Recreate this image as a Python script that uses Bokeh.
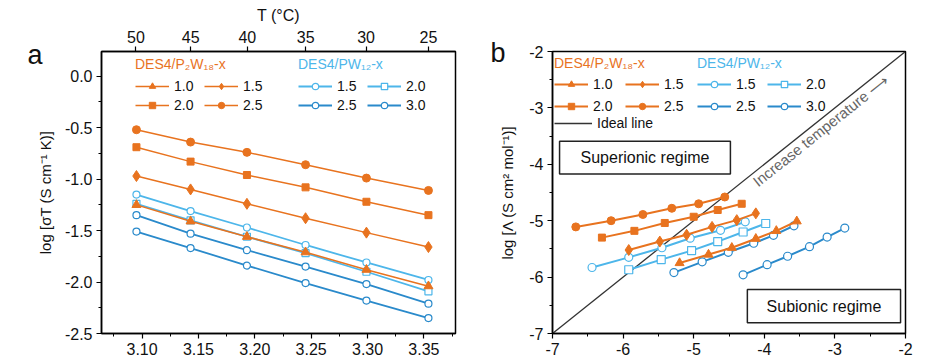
from bokeh.plotting import figure
from bokeh.layouts import row
from bokeh.models import (LinearAxis, FixedTicker, Legend, LegendItem, Label,
                          BoxAnnotation, Range1d, NumeralTickFormatter)
from bokeh.embed import file_html
from bokeh.resources import INLINE

# ---------------- data: panel a ----------------
T_C = [50, 45, 40, 35, 30, 25]
inv_T = [3.095, 3.143, 3.193, 3.245, 3.299, 3.354]

a_p2w18_10 = [-1.25, -1.41, -1.56, -1.71, -1.88, -2.04]
a_p2w18_15 = [-0.97, -1.10, -1.24, -1.38, -1.52, -1.66]
a_p2w18_20 = [-0.69, -0.83, -0.96, -1.08, -1.22, -1.35]
a_p2w18_25 = [-0.52, -0.64, -0.74, -0.86, -0.99, -1.11]

a_pw12_15 = [-1.15, -1.31, -1.47, -1.64, -1.81, -1.98]
a_pw12_20 = [-1.24, -1.40, -1.56, -1.72, -1.90, -2.09]
a_pw12_25 = [-1.35, -1.53, -1.69, -1.85, -2.02, -2.21]
a_pw12_30 = [-1.51, -1.67, -1.84, -2.01, -2.18, -2.35]

# ---------------- data: panel b ----------------
b_p2w18_10_x = [-5.20, -4.79, -4.46, -4.12, -3.83, -3.54]
b_p2w18_10_y = [-5.75, -5.60, -5.48, -5.32, -5.18, -5.01]
b_p2w18_15_x = [-5.92, -5.48, -5.10, -4.74, -4.39, -4.12]
b_p2w18_15_y = [-5.52, -5.37, -5.25, -5.11, -4.99, -4.87]
b_p2w18_20_x = [-6.30, -5.84, -5.41, -5.00, -4.66, -4.32]
b_p2w18_20_y = [-5.30, -5.18, -5.04, -4.93, -4.81, -4.70]
b_p2w18_25_x = [-6.67, -6.17, -5.72, -5.31, -4.93, -4.56]
b_p2w18_25_y = [-5.11, -5.00, -4.89, -4.78, -4.70, -4.58]

b_pw12_15_x = [-6.44, -5.92, -5.45, -5.05, -4.62, -4.27]
b_pw12_15_y = [-5.83, -5.65, -5.48, -5.31, -5.17, -5.02]
b_pw12_20_x = [-5.92, -5.46, -5.03, -4.66, -4.30, -3.98]
b_pw12_20_y = [-5.87, -5.69, -5.53, -5.37, -5.20, -5.05]
b_pw12_25_x = [-5.28, -4.88, -4.51, -4.15, -3.87, -3.58]
b_pw12_25_y = [-5.92, -5.73, -5.56, -5.40, -5.26, -5.09]
b_pw12_30_x = [-4.30, -3.96, -3.67, -3.36, -3.11, -2.86]
b_pw12_30_y = [-5.96, -5.78, -5.63, -5.46, -5.29, -5.13]

ideal_x = [-7, -2]
ideal_y = [-7, -2]

labels_p2w18 = ["1.0", "1.5", "2.0", "2.5"]
labels_pw12 = ["1.5", "2.0", "2.5", "3.0"]
panel_letters = ["a", "b"]

ORANGE = "#E8731F"
BLUE_L = "#4DB6EA"
BLUE_D = "#2A8ACB"
FONT = "Liberation Sans"

o_markers = ["triangle", "diamond", "square", "circle"]
o_sizes = [9, 11, 7, 8]
b_markers = ["circle", "square", "circle", "circle"]
b_colors = [BLUE_L, BLUE_L, BLUE_D, BLUE_D]
# legend fills column by column: reorder so rows read 1st/2nd, 3rd/4th
LEG_ORDER = [0, 2, 1, 3]


def style_axis(ax, minor=True):
    ax.axis_line_color = "black"
    ax.axis_line_width = 1.5
    ax.major_tick_line_color = "black"
    ax.major_tick_line_width = 1.2
    ax.major_tick_in = 0
    ax.major_tick_out = 5
    ax.minor_tick_in = 0
    ax.minor_tick_out = 3 if minor else 0
    ax.minor_tick_line_color = "black"
    ax.major_label_text_font = FONT
    ax.major_label_text_font_size = "16px"
    ax.major_label_text_color = "#111"
    ax.major_label_standoff = 4
    ax.axis_label_text_font = FONT
    ax.axis_label_text_font_size = "15px"
    ax.axis_label_text_font_style = "normal"
    ax.axis_label_text_color = "#111"


def make_legend(items, title, color, loc, size="14px", spacing=3, label_width=27,
                ncols=2, standoff=6):
    items = [items[i] for i in LEG_ORDER]
    return Legend(items=items, title=title, location=loc, ncols=ncols,
                  title_text_color=color, title_text_font=FONT,
                  title_text_font_size=size, title_text_font_style="normal",
                  title_standoff=standoff,
                  label_text_font=FONT, label_text_font_size=size,
                  label_text_color="#111",
                  glyph_width=34, glyph_height=16, label_height=16,
                  label_width=label_width, spacing=spacing, padding=0, margin=0,
                  label_standoff=5, border_line_alpha=0, background_fill_alpha=0)


def letter_axis(p, letter, at):
    # an outer left axis with a single labelled tick near the frame top
    ax = LinearAxis(ticker=FixedTicker(ticks=[at], minor_ticks=[]),
                    major_label_overrides={at: letter},
                    axis_line_alpha=0, major_tick_in=0, major_tick_out=0,
                    major_label_standoff=-9, major_label_text_font=FONT,
                    major_label_text_font_size="27px",
                    major_label_text_color="#111")
    p.add_layout(ax, "left")


# ======================= panel a =======================
pa = figure(width=472, height=357, x_range=Range1d(3.064, 3.378),
            y_range=Range1d(-2.5, 0.24), output_backend="svg",
            toolbar_location=None, min_border_left=101, min_border_right=17,
            min_border_top=51, min_border_bottom=24)
pa.grid.visible = False
pa.outline_line_color = "black"
pa.outline_line_width = 1.5
pa.background_fill_color = "white"
pa.border_fill_color = "white"

xa = pa.xaxis[0]
xa.ticker = FixedTicker(ticks=[3.10, 3.15, 3.20, 3.25, 3.30, 3.35],
                        minor_ticks=[3.075, 3.125, 3.175, 3.225, 3.275, 3.325, 3.375])
xa.formatter = NumeralTickFormatter(format="0.00")
style_axis(xa)
ya = pa.yaxis[0]
ya.ticker = FixedTicker(ticks=[-2.5, -2.0, -1.5, -1.0, -0.5, 0.0],
                        minor_ticks=[-2.25, -1.75, -1.25, -0.75, -0.25])
ya.formatter = NumeralTickFormatter(format="0.0")
ya.axis_label = "log [σT (S cm⁻¹ K)]"
style_axis(ya)
ya.axis_label_standoff = 8
letter_axis(pa, panel_letters[0], 0.21)

top_ticks = [1000.0 / (t + 273.15) for t in T_C]
top = LinearAxis(ticker=FixedTicker(ticks=top_ticks, minor_ticks=[]),
                 major_label_overrides={tk: str(t) for tk, t in zip(top_ticks, T_C)},
                 axis_label="T (°C)")
style_axis(top, minor=False)
top.axis_label_standoff = 4
top.axis_label_text_font_size = "16px"
pa.add_layout(top, "above")

a_or = [a_p2w18_10, a_p2w18_15, a_p2w18_20, a_p2w18_25]
a_bl = [a_pw12_15, a_pw12_20, a_pw12_25, a_pw12_30]

items_bl = []
for ys, lab, mk, c in zip(a_bl, labels_pw12, b_markers, b_colors):
    l = pa.line(inv_T, ys, line_color=c, line_width=1.8)
    s = pa.scatter(inv_T, ys, marker=mk, size=7, fill_color="white",
                   line_color=c, line_width=1.2)
    items_bl.append(LegendItem(label=lab, renderers=[l, s]))
items_or = []
for ys, lab, mk, sz in zip(a_or, labels_p2w18, o_markers, o_sizes):
    l = pa.line(inv_T, ys, line_color=ORANGE, line_width=1.5)
    s = pa.scatter(inv_T, ys, marker=mk, size=sz, fill_color=ORANGE,
                   line_color=ORANGE)
    items_or.append(LegendItem(label=lab, renderers=[l, s]))

pa.add_layout(make_legend(items_or, "DES4/P₂W₁₈-x", ORANGE, (34, 220)))
pa.add_layout(make_legend(items_bl, "DES4/PW₁₂-x", BLUE_L, (197, 220)))

# ======================= panel b =======================
pb = figure(width=472, height=357, x_range=Range1d(-7, -2), y_range=Range1d(-7, -2),
            output_backend="svg", toolbar_location=None, min_border_left=80,
            min_border_right=39, min_border_top=50, min_border_bottom=24)
pb.grid.visible = False
pb.outline_line_color = "black"
pb.outline_line_width = 1.5
pb.border_fill_color = "white"

xb = pb.xaxis[0]
xb.ticker = FixedTicker(ticks=[-7, -6, -5, -4, -3, -2],
                        minor_ticks=[-6.5, -5.5, -4.5, -3.5, -2.5])
xb.formatter = NumeralTickFormatter(format="0")
style_axis(xb)
yb = pb.yaxis[0]
yb.ticker = FixedTicker(ticks=[-7, -6, -5, -4, -3, -2],
                        minor_ticks=[-6.5, -5.5, -4.5, -3.5, -2.5])
yb.formatter = NumeralTickFormatter(format="0")
yb.axis_label = "log [Λ (S cm² mol⁻¹)]"
style_axis(yb)
yb.axis_label_standoff = 10
letter_axis(pb, panel_letters[1], -2.03)

ideal = pb.line(ideal_x, ideal_y, line_color="#333", line_width=1.3)

b_or = [(b_p2w18_10_x, b_p2w18_10_y), (b_p2w18_15_x, b_p2w18_15_y),
        (b_p2w18_20_x, b_p2w18_20_y), (b_p2w18_25_x, b_p2w18_25_y)]
b_bl = [(b_pw12_15_x, b_pw12_15_y), (b_pw12_20_x, b_pw12_20_y),
        (b_pw12_25_x, b_pw12_25_y), (b_pw12_30_x, b_pw12_30_y)]

itb_bl = []
for (xs, ys), lab, mk, c in zip(b_bl, labels_pw12, b_markers, b_colors):
    l = pb.line(xs, ys, line_color=c, line_width=2)
    s = pb.scatter(xs, ys, marker=mk, size=8, fill_color="white",
                   line_color=c, line_width=1.2)
    itb_bl.append(LegendItem(label=lab, renderers=[l, s]))
itb_or = []
for (xs, ys), lab, mk, sz in zip(b_or, labels_p2w18, o_markers, o_sizes):
    l = pb.line(xs, ys, line_color=ORANGE, line_width=2)
    s = pb.scatter(xs, ys, marker=mk, size=sz, fill_color=ORANGE,
                   line_color=ORANGE)
    itb_or.append(LegendItem(label=lab, renderers=[l, s]))

pb.add_layout(make_legend(itb_or, "DES4/P₂W₁₈-x", ORANGE, (2, 219), spacing=6,
                          label_width=26, standoff=5))
pb.add_layout(make_legend(itb_bl, "DES4/PW₁₂-x", BLUE_L, (145, 219), spacing=6,
                          label_width=25, standoff=5))
pb.add_layout(Legend(items=[LegendItem(label="Ideal line", renderers=[ideal])],
                     location=(2, 202), label_text_font=FONT, label_text_font_size="14px",
                     label_text_color="#111", glyph_width=38, glyph_height=16,
                     label_height=16, padding=0, margin=0, label_standoff=5,
                     border_line_alpha=0, background_fill_alpha=0))

pb.add_layout(BoxAnnotation(left=-6.90, right=-4.48, top=-3.59, bottom=-4.17,
                            fill_alpha=0, line_color="#222", line_alpha=1,
                            line_width=1.5))
pb.add_layout(Label(x=-5.69, y=-3.88, text="Superionic regime", text_font=FONT,
                    text_font_size="16px", text_align="center",
                    text_baseline="middle", text_color="#111"))
pb.add_layout(BoxAnnotation(left=-4.24, right=-2.07, top=-6.22, bottom=-6.81,
                            fill_alpha=0, line_color="#222", line_alpha=1,
                            line_width=1.5))
pb.add_layout(Label(x=-3.155, y=-6.515, text="Subionic regime", text_font=FONT,
                    text_font_size="16px", text_align="center",
                    text_baseline="middle", text_color="#111"))
pb.add_layout(Label(x=-3.20, y=-3.40, text="Increase temperature ⟶", text_font=FONT,
                    text_font_size="15px", text_align="center",
                    text_baseline="middle", text_color="#666", angle=0.675))

layout = row(pa, pb, spacing=0)
open("out.html", "w").write(file_html(layout, INLINE))
